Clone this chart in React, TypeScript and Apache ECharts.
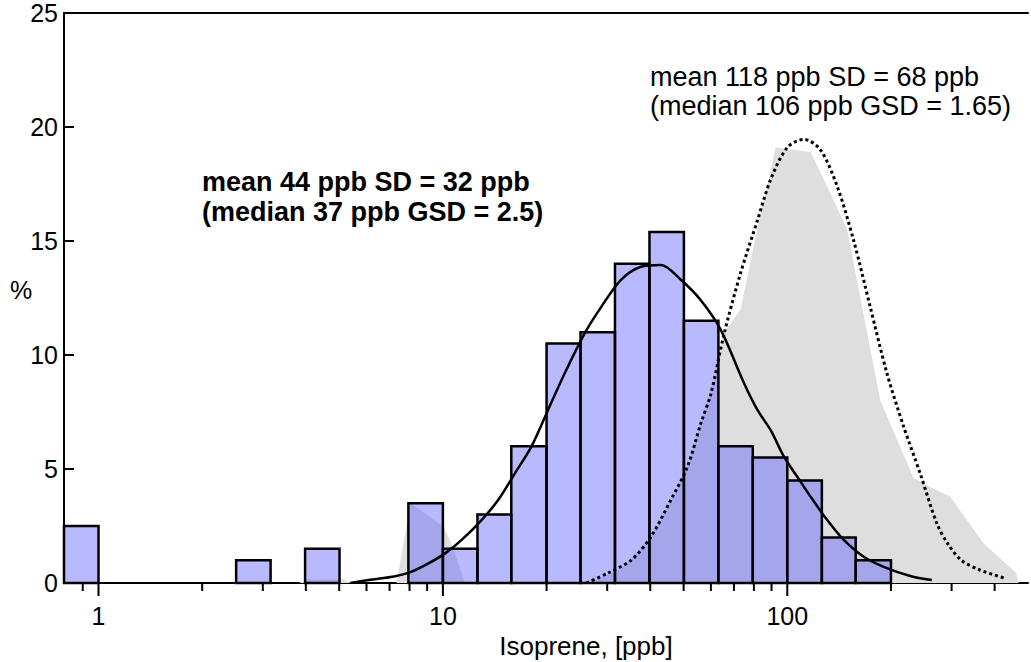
import React, { useEffect, useRef } from "react";
import * as echarts from "echarts";

// Histogram bins (log-spaced, ppb) and percentages
const binLo = [0.794, 2.51, 3.98, 7.94, 10, 12.6, 15.8, 20.0, 25.1, 31.6, 39.8, 50.1, 63.1, 79.4, 100, 126, 158];
const binHi = [1.0, 3.16, 5.01, 10, 12.6, 15.8, 20.0, 25.1, 31.6, 39.8, 50.1, 63.1, 79.4, 100, 126, 158, 200];
const binPct = [2.5, 1.0, 1.5, 3.5, 1.5, 3.0, 6.0, 10.5, 11.0, 14.0, 15.4, 11.5, 6.0, 5.5, 4.5, 2.0, 1.0];

// Fitted log-normal (solid)
const fitX = [5.39, 6.09, 7.27, 8.12, 9.08, 10.15, 11.34, 12.95, 14.47, 16.18, 18.07, 20.2, 22.58, 25.8, 28.8, 32.9, 37.6, 43.0, 49.1, 56.1, 64.1, 74.9, 81.9, 89.5, 97.8, 106.9, 116.8, 130.6, 145.9, 166.7, 190.5, 227.5, 262.9];
const fitY = [0, 0.13, 0.3, 0.5, 0.86, 1.3, 1.89, 2.76, 3.64, 4.81, 5.98, 7.59, 9.2, 10.95, 12.1, 13.3, 13.87, 13.95, 13.3, 12.4, 11.1, 8.76, 7.59, 6.7, 5.54, 4.66, 3.79, 2.76, 1.89, 1.15, 0.71, 0.31, 0.13];

// Reference log-normal (dotted)
const refX = [26.1, 30.1, 35.2, 40.2, 45.9, 51.3, 56.1, 60.0, 65.6, 73.2, 81.9, 89.5, 100, 111.8, 124.8, 139.6, 156.0, 174.2, 194.7, 217.7, 243.1, 272.0, 293.0, 320.0, 362.7, 430.0];
const refY = [0, 0.43, 1.0, 2.03, 3.64, 5.1, 7.0, 8.3, 10.95, 13.6, 15.9, 17.7, 19.1, 19.46, 19.0, 17.4, 15.0, 12.1, 9.2, 6.86, 4.81, 2.6, 1.7, 1.0, 0.57, 0.2];

// Reference distribution (grey area)
const grayX = [3.82, 4.03, 5.15, 5.4, 7.33, 8.05, 10.1, 10.72, 11.6, 26.4, 32.9, 40.1, 45.9, 51.3, 56.0, 61.5, 64.9, 73.2, 81.9, 87.5, 92.5, 116.8, 127.7, 149.2, 186.3, 232.6, 259.9, 297.0, 371.0, 463.2, 469.5];
const grayY = [0, 0.15, 0.15, 0, 0, 3.5, 2.45, 1.5, 0, 0, 0.6, 2.0, 3.6, 5.1, 7.0, 8.9, 10.9, 12.0, 15.6, 17.4, 19.1, 18.9, 17.7, 15.5, 8.0, 4.6, 4.2, 3.8, 1.74, 0.43, 0];

const xMajorTicks = [1, 10, 100];
const xMinorTicks = [0.9, 2, 3, 4, 5, 6, 7, 8, 9, 20, 30, 40, 50, 60, 70, 80, 90, 200, 300, 400];
const xMin = 0.794;
const xMax = 500;

const FONT = '"Liberation Sans", Arial, Helvetica, sans-serif';

export default function App() {
  const ref = useRef<HTMLDivElement>(null);
  useEffect(() => {
    if (!ref.current) return;
    const chart = echarts.init(ref.current, undefined, { renderer: "svg" });
    const bars = binLo.map((lo, i) => [lo, binHi[i], binPct[i]]);
    const fit = fitX.map((x, i) => [x, fitY[i]]);
    const refc = refX.map((x, i) => [x, refY[i]]);
    const gray = grayX.map((x, i) => [x, grayY[i]]);
    const tickRender = (len: number) => (params: any, api: any) => {
      const p = api.coord([api.value(0), 0]);
      return {
        type: "line",
        shape: { x1: p[0], y1: p[1] + 1, x2: p[0], y2: p[1] + len },
        style: { stroke: "#000", lineWidth: 2 },
      };
    };
    const labelFmt = (v: number) => {
      const l = Math.log10(v);
      if (Math.abs(l - Math.round(l)) < 1e-6 && xMajorTicks.indexOf(Math.round(v)) >= 0) return String(Math.round(v));
      return "";
    };
    chart.setOption({
      animation: false,
      grid: { left: 64, right: 0, top: 13, bottom: 79 },
      xAxis: [
        {
          type: "log",
          logBase: 10,
          min: xMin,
          max: xMax,
          position: "bottom",
          axisLine: { show: true, lineStyle: { color: "#000", width: 2 } },
          axisTick: { show: false },
          minorTick: { show: false },
          splitLine: { show: false },
          minorSplitLine: { show: false },
          axisLabel: { formatter: labelFmt, fontSize: 25, color: "#000", fontFamily: FONT, margin: 20 },
        },
        {
          type: "log",
          logBase: 10,
          min: xMin,
          max: xMax,
          position: "top",
          axisLine: { show: true, lineStyle: { color: "#000", width: 2 } },
          axisTick: { show: false },
          axisLabel: { show: false },
          splitLine: { show: false },
        },
      ],
      yAxis: {
        type: "value",
        min: 0,
        max: 25,
        interval: 5,
        axisLine: { show: true, lineStyle: { color: "#000", width: 2 } },
        axisTick: { show: true, inside: true, length: 10, lineStyle: { color: "#000", width: 2 } },
        axisLabel: { fontSize: 25, color: "#000", fontFamily: FONT, margin: 6 },
        splitLine: { show: false },
      },
      series: [
        {
          type: "line",
          data: gray,
          symbol: "none",
          lineStyle: { width: 0 },
          areaStyle: { color: "#dedede", opacity: 1 },
          z: 1,
          silent: true,
        },
        {
          type: "custom",
          data: bars,
          encode: { x: [0, 1], y: 2 },
          z: 2,
          renderItem: (params: any, api: any) => {
            const p0 = api.coord([api.value(0), 0]);
            const p1 = api.coord([api.value(1), api.value(2)]);
            return {
              type: "rect",
              shape: { x: p0[0], y: p1[1], width: p1[0] - p0[0], height: p0[1] - p1[1] },
              style: { fill: "rgba(80,80,255,0.40)", stroke: "#000", lineWidth: 2.5 },
            };
          },
        },
        {
          type: "line",
          data: fit,
          symbol: "none",
          smooth: 0.3,
          lineStyle: { color: "#000", width: 2.5 },
          z: 4,
        },
        {
          type: "line",
          data: refc,
          symbol: "none",
          smooth: 0.3,
          lineStyle: { color: "#000", width: 3, type: [3, 3] },
          z: 4,
        },
        {
          type: "custom",
          data: xMajorTicks.map((v) => [v, 0]),
          encode: { x: 0, y: 1 },
          z: 5,
          clip: false,
          renderItem: tickRender(13),
        },
        {
          type: "custom",
          data: xMinorTicks.map((v) => [v, 0]),
          encode: { x: 0, y: 1 },
          z: 5,
          clip: false,
          renderItem: tickRender(8),
        },
      ],
      graphic: [
        { type: "text", x: 650, y: 77, style: { text: "mean 118 ppb SD = 68 ppb", font: `27px ${FONT}`, fill: "#000", align: "left", verticalAlign: "middle", textAlign: "left", textVerticalAlign: "middle" } },
        { type: "text", x: 650, y: 105.5, style: { text: "(median 106 ppb GSD = 1.65)", font: `27px ${FONT}`, fill: "#000", align: "left", verticalAlign: "middle", textAlign: "left", textVerticalAlign: "middle" } },
        { type: "text", x: 202, y: 182, style: { text: "mean 44 ppb SD = 32 ppb", font: `bold 27px ${FONT}`, fill: "#000", align: "left", verticalAlign: "middle", textAlign: "left", textVerticalAlign: "middle" } },
        { type: "text", x: 202, y: 212, style: { text: "(median 37 ppb GSD = 2.5)", font: `bold 27px ${FONT}`, fill: "#000", align: "left", verticalAlign: "middle", textAlign: "left", textVerticalAlign: "middle" } },
        { type: "text", x: 21, y: 290, style: { text: "%", font: `25px ${FONT}`, fill: "#000", align: "center", verticalAlign: "middle", textAlign: "center", textVerticalAlign: "middle" } },
        { type: "text", x: 586, y: 646, style: { text: "Isoprene, [ppb]", font: `26px ${FONT}`, fill: "#000", align: "center", verticalAlign: "middle", textAlign: "center", textVerticalAlign: "middle" } },
      ],
    });
    return () => chart.dispose();
  }, []);
  return <div ref={ref} style={{ position: "absolute", left: 0, top: 0, width: 1031, height: 662 }} />;
}
